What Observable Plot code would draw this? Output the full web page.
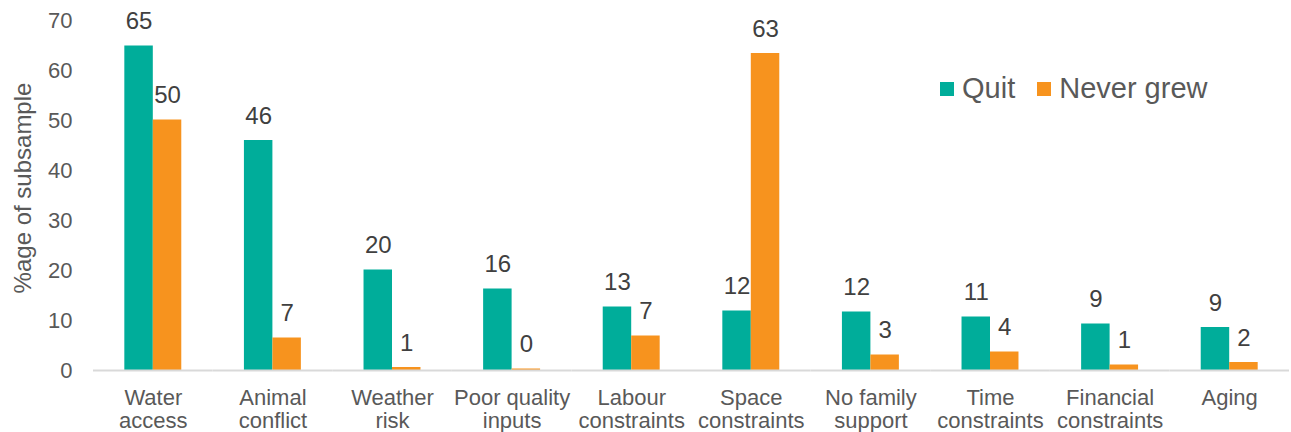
<!DOCTYPE html>
<html>
<head>
<meta charset="utf-8">
<script src="https://cdn.jsdelivr.net/npm/d3@7"></script>
<script src="https://cdn.jsdelivr.net/npm/@observablehq/plot@0.6"></script>
<style>
  html, body { margin: 0; padding: 0; background: #fff; }
  #wrap { position: relative; width: 1291px; height: 432px; font-family: "Liberation Sans", Arial, sans-serif; }
  #legend { position: absolute; left: 940px; top: 72px; display: flex; align-items: center; font-size: 29px; color: #595959; white-space: nowrap; }
  #legend .sw { display: inline-block; width: 14px; height: 14px; margin-right: 8px; }
  #legend .item { display: flex; align-items: center; margin-right: 22px; }
  #ytitle { position: absolute; left: 23px; top: 188px; transform: translate(-50%, -50%) rotate(-90deg); font-size: 24px; color: #595959; white-space: nowrap; }
</style>
</head>
<body>
<div id="wrap">
  <div id="chart"></div>
  <div id="ytitle">%age of subsample</div>
  <div id="legend"></div>
</div>
<script>
const categories = ["Water access","Animal conflict","Weather risk","Poor quality inputs","Labour constraints","Space constraints","No family support","Time constraints","Financial constraints","Aging"];
const tickLabels = ["Water\naccess","Animal\nconflict","Weather\nrisk","Poor quality\ninputs","Labour\nconstraints","Space\nconstraints","No family\nsupport","Time\nconstraints","Financial\nconstraints","Aging"];
const series = ["Quit","Never grew"];
const quit = [64.9, 46.0, 20.1, 16.3, 12.7, 11.9, 11.7, 10.7, 9.3, 8.6];
const neverGrew = [50.1, 6.5, 0.6, 0.3, 6.9, 63.4, 3.1, 3.7, 1.1, 1.6];
const colors = ["#00ad9a", "#f7931e"];
const yTicks = [0, 10, 20, 30, 40, 50, 60, 70];

const data = [];
categories.forEach((c, i) => {
  data.push({cat: c, series: series[0], value: quit[i]});
  data.push({cat: c, series: series[1], value: neverGrew[i]});
});

const chart = Plot.plot({
  width: 1291,
  height: 432,
  marginLeft: 93,
  marginRight: 2,
  marginTop: 20,
  marginBottom: 62,
  style: {fontFamily: "'Liberation Sans', Arial, sans-serif", fontSize: "22px", color: "#595959", background: "white", overflow: "visible"},
  fx: {domain: categories, padding: 0, round: false, label: null},
  x: {domain: series, paddingInner: 0, paddingOuter: 1.1, round: false, axis: null},
  y: {domain: [0, 70], label: null},
  color: {domain: series, range: colors},
  marks: [
    Plot.axisY({ticks: yTicks, tickSize: 0, tickPadding: 21, label: null, fontSize: 22, fill: "#595959"}),
    Plot.axisFx({anchor: "bottom", tickSize: 0, tickPadding: 18, label: null, lineHeight: 1.05, fontSize: 22, fill: "#595959",
      tickFormat: d => tickLabels[categories.indexOf(d)]}),
    Plot.barY(data, {fx: "cat", x: "series", y: "value", fill: "series"}),
    Plot.ruleY([0], {stroke: "#d9d9d9", strokeWidth: 2}),
    Plot.text(data, {fx: "cat", x: "series", y: "value", text: d => String(Math.round(d.value)),
      lineAnchor: "bottom", dy: -17, fontSize: 24, fill: "#404040"})
  ]
});
document.getElementById("chart").appendChild(chart);

const legend = document.getElementById("legend");
series.forEach((s, i) => {
  const item = document.createElement("span");
  item.className = "item";
  const sw = document.createElement("span");
  sw.className = "sw";
  sw.style.background = colors[i];
  item.appendChild(sw);
  item.appendChild(document.createTextNode(s));
  legend.appendChild(item);
});
</script>
</body>
</html>
